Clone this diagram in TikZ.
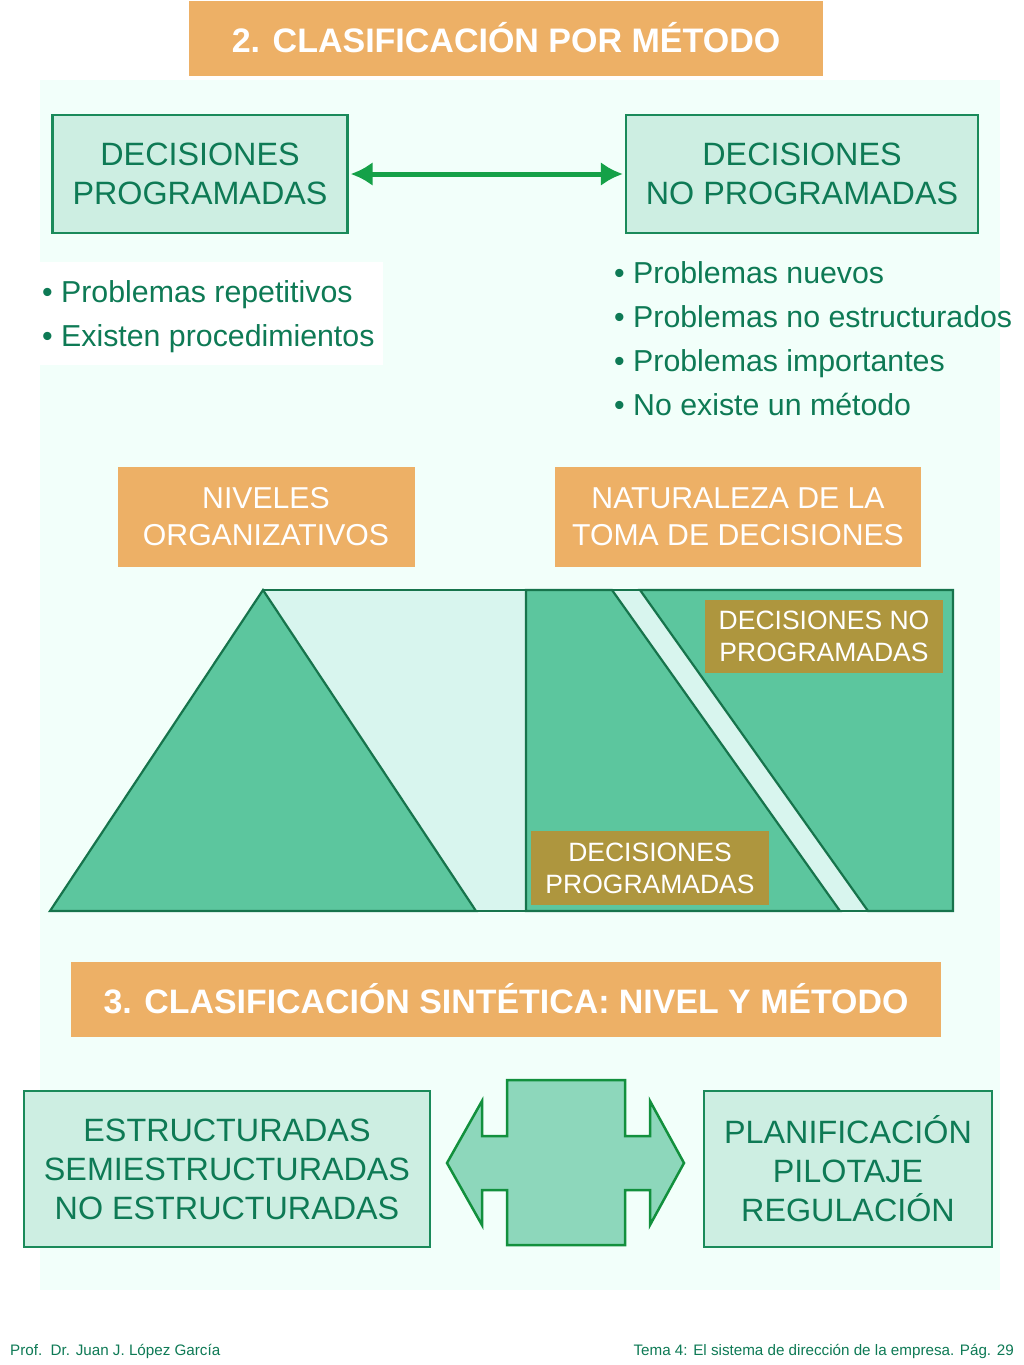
\documentclass[tikz,border=0pt]{standalone}
\usepackage{fontspec}
\usetikzlibrary{arrows.meta,calc}
\setmainfont{Liberation Sans}
\definecolor{orng}{HTML}{EDB066}
\definecolor{gtxt}{HTML}{0E7A55}
\definecolor{gbord}{HTML}{1A8A5A}
\definecolor{gfill}{HTML}{CDEEE2}
\definecolor{tri}{HTML}{5CC69E}
\definecolor{tribd}{HTML}{17744C}
\definecolor{pale}{HTML}{D8F5EE}
\definecolor{brn}{HTML}{AE963E}
\tikzset{
 obox/.style={fill=orng,text=white,align=center,inner sep=0pt},
 gbox/.style={draw=gbord,line width=2.2pt,fill=gfill,text=gtxt,align=center,inner sep=0pt},
 bbox/.style={fill=brn,text=white,align=center,inner sep=0pt,font=\fontsize{26.5}{32}\selectfont},
 blist/.style={text=gtxt,align=left,anchor=north west,inner sep=0pt,font=\fontsize{30.3}{44}\selectfont},
}
\begin{document}
\begin{tikzpicture}[x=1pt,y=-1pt]
\useasboundingbox (0,0) rectangle (1024,1365);
\fill[white] (0,0) rectangle (1024,1365);
\fill[green!40!cyan!5] (40,80) rectangle (1000,1290);
% title
\node[obox,minimum width=634,minimum height=75,font=\bfseries\fontsize{34}{38}\selectfont] (t1) at (506,38) {2. CLASIFICACIÓN POR MÉTODO};
\node[gbox,minimum width=295,minimum height=118,font=\fontsize{32.3}{39}\selectfont] (dp) at (200,174) {DECISIONES\\PROGRAMADAS};
\node[gbox,minimum width=352,minimum height=118,font=\fontsize{32.3}{39}\selectfont] (dnp) at (802,174) {DECISIONES\\NO PROGRAMADAS};
\draw[gbord!80!green,line width=5pt,{Latex[length=22pt,width=24pt]}-{Latex[length=22pt,width=24pt]}] ($(dp.east)+(2,0)$) -- ($(dnp.west)+(-2,0)$);
\fill[white] (32,262) rectangle (383,365);
\node[blist] (l1) at (42,280) {• Problemas repetitivos\\• Existen procedimientos};
\node[blist] (l2) at (614,261) {• Problemas nuevos\\• Problemas no estructurados\\• Problemas importantes\\• No existe un método};
\node[obox,minimum width=297,minimum height=100,font=\fontsize{30.2}{37}\selectfont] (n1) at (266,517) {NIVELES\\ORGANIZATIVOS};
\node[obox,minimum width=366,minimum height=100,font=\fontsize{30.2}{37}\selectfont] (n2) at (738,517) {NATURALEZA DE LA\\TOMA DE DECISIONES};
% left figure
\fill[pale] (263,590) rectangle (526,911);
\draw[tribd,line width=2.2pt] (263,590) -- (526,590);
\draw[tribd,line width=2.2pt,fill=tri] (50,911) -- (263,590) -- (476,911) -- cycle;
\draw[tribd,line width=2.2pt] (476,911) -- (526,911);
% right figure
\draw[tribd,line width=2.2pt,fill=pale] (526,590) rectangle (953,911);
\draw[tribd,line width=2.2pt,fill=tri] (526,590) -- (612,590) -- (840,911) -- (526,911) -- cycle;
\draw[tribd,line width=2.2pt,fill=tri] (640,590) -- (953,590) -- (953,911) -- (868,911) -- cycle;
\node[bbox,minimum width=238,minimum height=73] (b1) at (824,636) {DECISIONES NO\\PROGRAMADAS};
\node[bbox,minimum width=238,minimum height=74] (b2) at (650,868) {DECISIONES\\PROGRAMADAS};
% section 3
\node[obox,minimum width=870,minimum height=75,font=\bfseries\fontsize{33.9}{38}\selectfont] (t3) at (506,999) {3. CLASIFICACIÓN SINTÉTICA: NIVEL Y MÉTODO};
\node[gbox,minimum width=406,minimum height=156,font=\fontsize{32.3}{39}\selectfont] (e) at (227,1169) {ESTRUCTURADAS\\SEMIESTRUCTURADAS\\NO ESTRUCTURADAS};
\node[gbox,minimum width=288,minimum height=156,font=\fontsize{32.3}{39}\selectfont] (p) at (848,1169) {PLANIFICACIÓN\\PILOTAJE\\REGULACIÓN};
\draw[tribd!80!green,line width=2.5pt,fill=tri!70!white] (447,1163) -- (482,1101) -- (482,1136) -- (507,1136) -- (507,1080) -- (625,1080) -- (625,1136) -- (650,1136) -- (650,1101) -- (684,1163) -- (650,1225) -- (650,1190) -- (625,1190) -- (625,1245) -- (507,1245) -- (507,1190) -- (482,1190) -- (482,1225) -- cycle;
\node[anchor=west,text=gtxt,inner sep=0pt,font=\fontsize{15.2}{17}\selectfont] (f1) at (10,1351) {Prof.\ \ Dr. Juan J. López García};
\node[anchor=east,text=gtxt,inner sep=0pt,font=\fontsize{15.2}{17}\selectfont] (f2) at (1014,1351) {Tema 4: El sistema de dirección de la empresa. Pág. 29};
\end{tikzpicture}
\end{document}
